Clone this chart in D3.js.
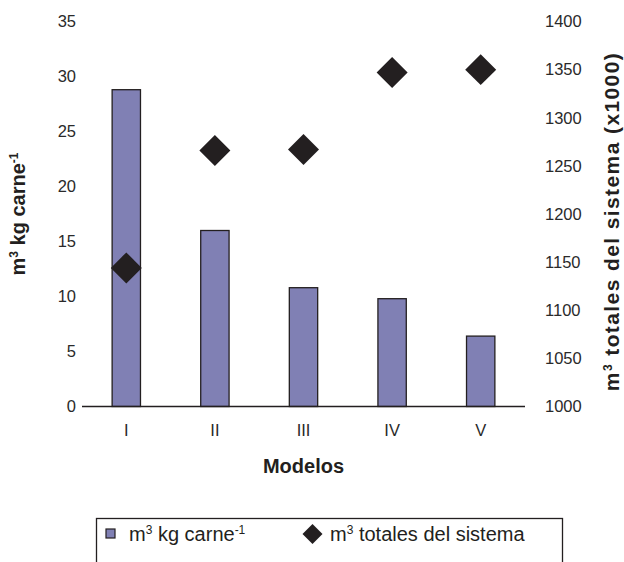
<!DOCTYPE html>
<html>
<head>
<meta charset="utf-8">
<script src="https://cdn.jsdelivr.net/npm/d3@7"></script>
<style>
  body { margin: 0; background: #fff; }
  svg { display: block; font-family: "Liberation Sans", Arial, sans-serif; }
</style>
</head>
<body>
<div id="chart"></div>
<script>
const modelos = ["I", "II", "III", "IV", "V"];
const m3PorKg = [28.8, 16.0, 10.8, 9.8, 6.4];
const m3Totales = [1144, 1266, 1267, 1347, 1350];
const leftTicks = [0, 5, 10, 15, 20, 25, 30, 35];
const rightTicks = [1000, 1050, 1100, 1150, 1200, 1250, 1300, 1350, 1400];

const W = 624, H = 562;
const svg = d3.select("#chart").append("svg")
    .attr("width", W)
    .attr("height", H);

const plotL = 82, plotR = 525, plotT = 21.5, plotB = 406.5;
const ink = "#231f20";

const x = d3.scaleBand()
    .domain(modelos)
    .range([plotL, plotR])
    .paddingInner(0.68)
    .paddingOuter(0.34);

const y = d3.scaleLinear().domain([0, 35]).range([plotB, plotT]);
const y2 = d3.scaleLinear().domain([1000, 1400]).range([plotB, plotT]);

// bars
svg.append("g").selectAll("rect")
    .data(modelos)
    .join("rect")
    .attr("x", d => x(d))
    .attr("y", (d, i) => y(m3PorKg[i]))
    .attr("width", x.bandwidth())
    .attr("height", (d, i) => y(0) - y(m3PorKg[i]))
    .attr("fill", "#8080b4")
    .attr("stroke", ink)
    .attr("stroke-width", 1.3);

// baseline
svg.append("line")
    .attr("x1", plotL).attr("x2", plotR)
    .attr("y1", y(0)).attr("y2", y(0))
    .attr("stroke", ink).attr("stroke-width", 1.3);

// left axis
const gl = svg.append("g")
    .attr("transform", `translate(${plotL},0)`)
    .call(d3.axisLeft(y).tickValues(leftTicks).tickSize(0).tickPadding(6));
gl.select(".domain").remove();

// right axis
const gr = svg.append("g")
    .attr("transform", `translate(${plotR},0)`)
    .call(d3.axisRight(y2).tickValues(rightTicks).tickFormat(d3.format("d")).tickSize(0).tickPadding(20));
gr.select(".domain").remove();

// bottom axis
const gb = svg.append("g")
    .attr("transform", `translate(0,${plotB})`)
    .call(d3.axisBottom(x).tickSize(0).tickPadding(18));
gb.select(".domain").remove();

svg.selectAll(".tick text")
    .attr("font-family", "Liberation Sans, Arial, sans-serif")
    .attr("font-size", 16.5)
    .attr("fill", "#2a2a2a");

// diamonds
svg.append("g").selectAll("path")
    .data(modelos)
    .join("path")
    .attr("d", d3.symbol(d3.symbolSquare, 31 * 31 / 2)())
    .attr("transform", (d, i) => `translate(${x(d) + x.bandwidth() / 2},${y2(m3Totales[i])}) rotate(45)`)
    .attr("fill", ink);

// axis titles
const t1 = svg.append("text")
    .attr("transform", `translate(25,${(plotT + plotB) / 2}) rotate(-90)`)
    .attr("text-anchor", "middle")
    .attr("font-size", 20)
    .attr("font-weight", "bold")
    .attr("fill", ink);
t1.append("tspan").text("m");
t1.append("tspan").attr("dy", -7).attr("font-size", 12).text("3");
t1.append("tspan").attr("dy", 7).text(" kg carne");
t1.append("tspan").attr("dy", -7).attr("font-size", 12).text("-1");

const t2 = svg.append("text")
    .attr("transform", `translate(619,221.5) rotate(-90)`)
    .attr("text-anchor", "middle")
    .attr("font-size", 21)
    .attr("letter-spacing", 1.4)
    .attr("font-weight", "bold")
    .attr("fill", ink);
t2.append("tspan").text("m");
t2.append("tspan").attr("dy", -7).attr("font-size", 12).text("3");
t2.append("tspan").attr("dy", 7).text(" totales del sistema (x1000)");

svg.append("text")
    .attr("x", (plotL + plotR) / 2)
    .attr("y", 473)
    .attr("text-anchor", "middle")
    .attr("font-size", 20)
    .attr("font-weight", "bold")
    .attr("fill", ink)
    .text("Modelos");

// legend
const lg = svg.append("g");
lg.append("rect")
    .attr("x", 96.5).attr("y", 518.5)
    .attr("width", 466).attr("height", 60)
    .attr("fill", "none")
    .attr("stroke", ink).attr("stroke-width", 1.3);
lg.append("rect")
    .attr("x", 106).attr("y", 529)
    .attr("width", 9).attr("height", 9)
    .attr("fill", "#8080b4")
    .attr("stroke", ink).attr("stroke-width", 1.2);
const l1 = lg.append("text")
    .attr("x", 129).attr("y", 541)
    .attr("font-size", 20)
    .attr("fill", ink);
l1.append("tspan").text("m");
l1.append("tspan").attr("dy", -7).attr("font-size", 12).text("3");
l1.append("tspan").attr("dy", 7).text(" kg carne");
l1.append("tspan").attr("dy", -7).attr("font-size", 12).text("-1");

lg.append("path")
    .attr("d", d3.symbol(d3.symbolSquare, 20 * 20 / 2)())
    .attr("transform", "translate(312.5,534) rotate(45)")
    .attr("fill", ink);
const l2 = lg.append("text")
    .attr("x", 330).attr("y", 541)
    .attr("font-size", 20)
    .attr("fill", ink);
l2.append("tspan").text("m");
l2.append("tspan").attr("dy", -7).attr("font-size", 12).text("3");
l2.append("tspan").attr("dy", 7).text(" totales del sistema");
</script>
</body>
</html>
